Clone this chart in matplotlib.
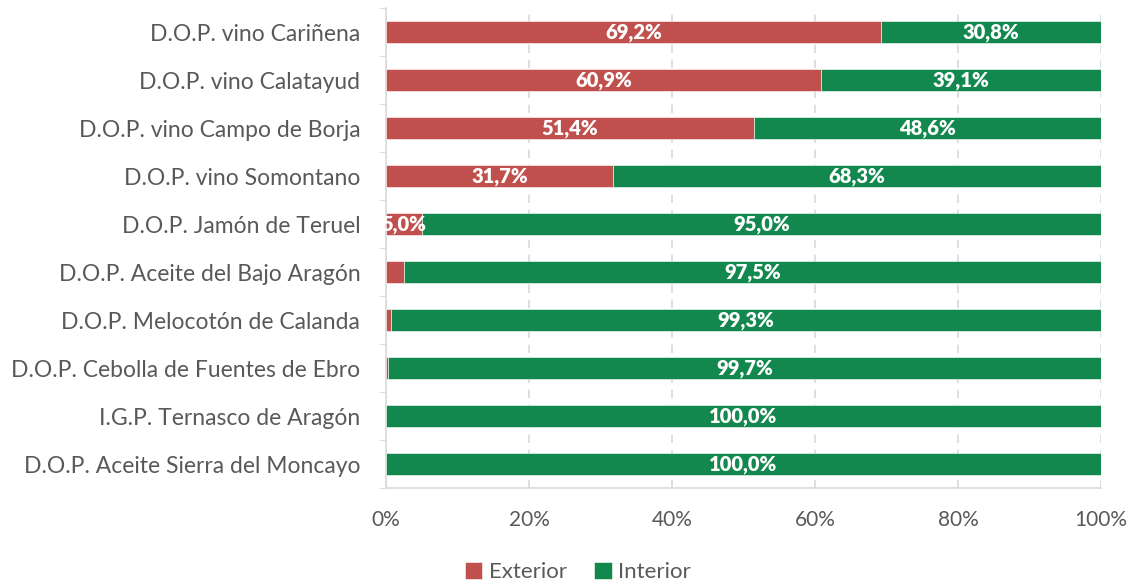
import matplotlib
matplotlib.use("Agg")
import matplotlib.pyplot as plt
import numpy as np

categories = [
    "D.O.P. vino Cariñena",
    "D.O.P. vino Calatayud",
    "D.O.P. vino Campo de Borja",
    "D.O.P. vino Somontano",
    "D.O.P. Jamón de Teruel",
    "D.O.P. Aceite del Bajo Aragón",
    "D.O.P. Melocotón de Calanda",
    "D.O.P. Cebolla de Fuentes de Ebro",
    "I.G.P. Ternasco de Aragón",
    "D.O.P. Aceite Sierra del Moncayo",
]
exterior = [69.2, 60.9, 51.4, 31.7, 5.0, 2.5, 0.7, 0.3, 0.0, 0.0]
interior = [30.8, 39.1, 48.6, 68.3, 95.0, 97.5, 99.3, 99.7, 100.0, 100.0]

red = "#C0504D"
green = "#12884F"
grey = "#595959"

plt.rcParams['font.family'] = ['Lato', 'DejaVu Sans']

fig = plt.figure(figsize=(11.33, 5.82), dpi=100)
ax = fig.add_axes([0.3407, 0.1615, 0.6311, 0.8245])

y = np.arange(len(categories))
ext = np.array(exterior) / 100
inn = np.array(interior) / 100

ax.barh(y, ext, height=0.46, color=red, edgecolor="white", linewidth=0.4, label="Exterior", zorder=3)
ax.barh(y, inn, left=ext, height=0.46, color=green, edgecolor="white", linewidth=0.4, label="Interior", zorder=3)

def fmt(v):
    return ("%.1f%%" % v).replace(".", ",")

for i in range(len(categories)):
    if exterior[i] >= 5:
        ax.text(ext[i] / 2, y[i], fmt(exterior[i]), ha="center", va="center",
                color="white", fontsize=14.5, fontweight="heavy", zorder=4)
    ax.text(ext[i] + inn[i] / 2, y[i], fmt(interior[i]), ha="center", va="center",
            color="white", fontsize=14.5, fontweight="heavy", zorder=4)

ax.set_xlim(0, 1)
ax.set_ylim(len(categories) - 0.5, -0.5)
ax.set_yticks(y)
ax.set_yticklabels(categories, fontsize=16.5, color=grey)
ax.set_yticks(np.arange(len(categories) + 1) - 0.5, minor=True)
ax.tick_params(axis="y", which="major", length=0, pad=18.5)
ax.tick_params(axis="y", which="minor", length=5, color="#d9d9d9")

ax.set_xticks(np.linspace(0, 1, 6))
ax.set_xticklabels(["%d%%" % v for v in range(0, 101, 20)], fontsize=15, color=grey)
ax.tick_params(axis="x", length=0, pad=16)

ax.grid(axis="x", color="#d9d9d9", linestyle=(0, (5, 4)), linewidth=1.2, zorder=0)
for s in ["top", "right"]:
    ax.spines[s].set_visible(False)
ax.spines["left"].set_color("#d9d9d9")
ax.spines["bottom"].set_color("#d9d9d9")
ax.spines["left"].set_linewidth(1.2)
ax.spines["bottom"].set_linewidth(1.2)

fig.legend(loc="lower center", bbox_to_anchor=(0.51, -0.035), ncol=2, frameon=False,
           fontsize=16, handlelength=0.8, handleheight=0.8, handletextpad=0.3,
           columnspacing=1.2, labelcolor=grey)

fig.savefig("out.png", dpi=100)
